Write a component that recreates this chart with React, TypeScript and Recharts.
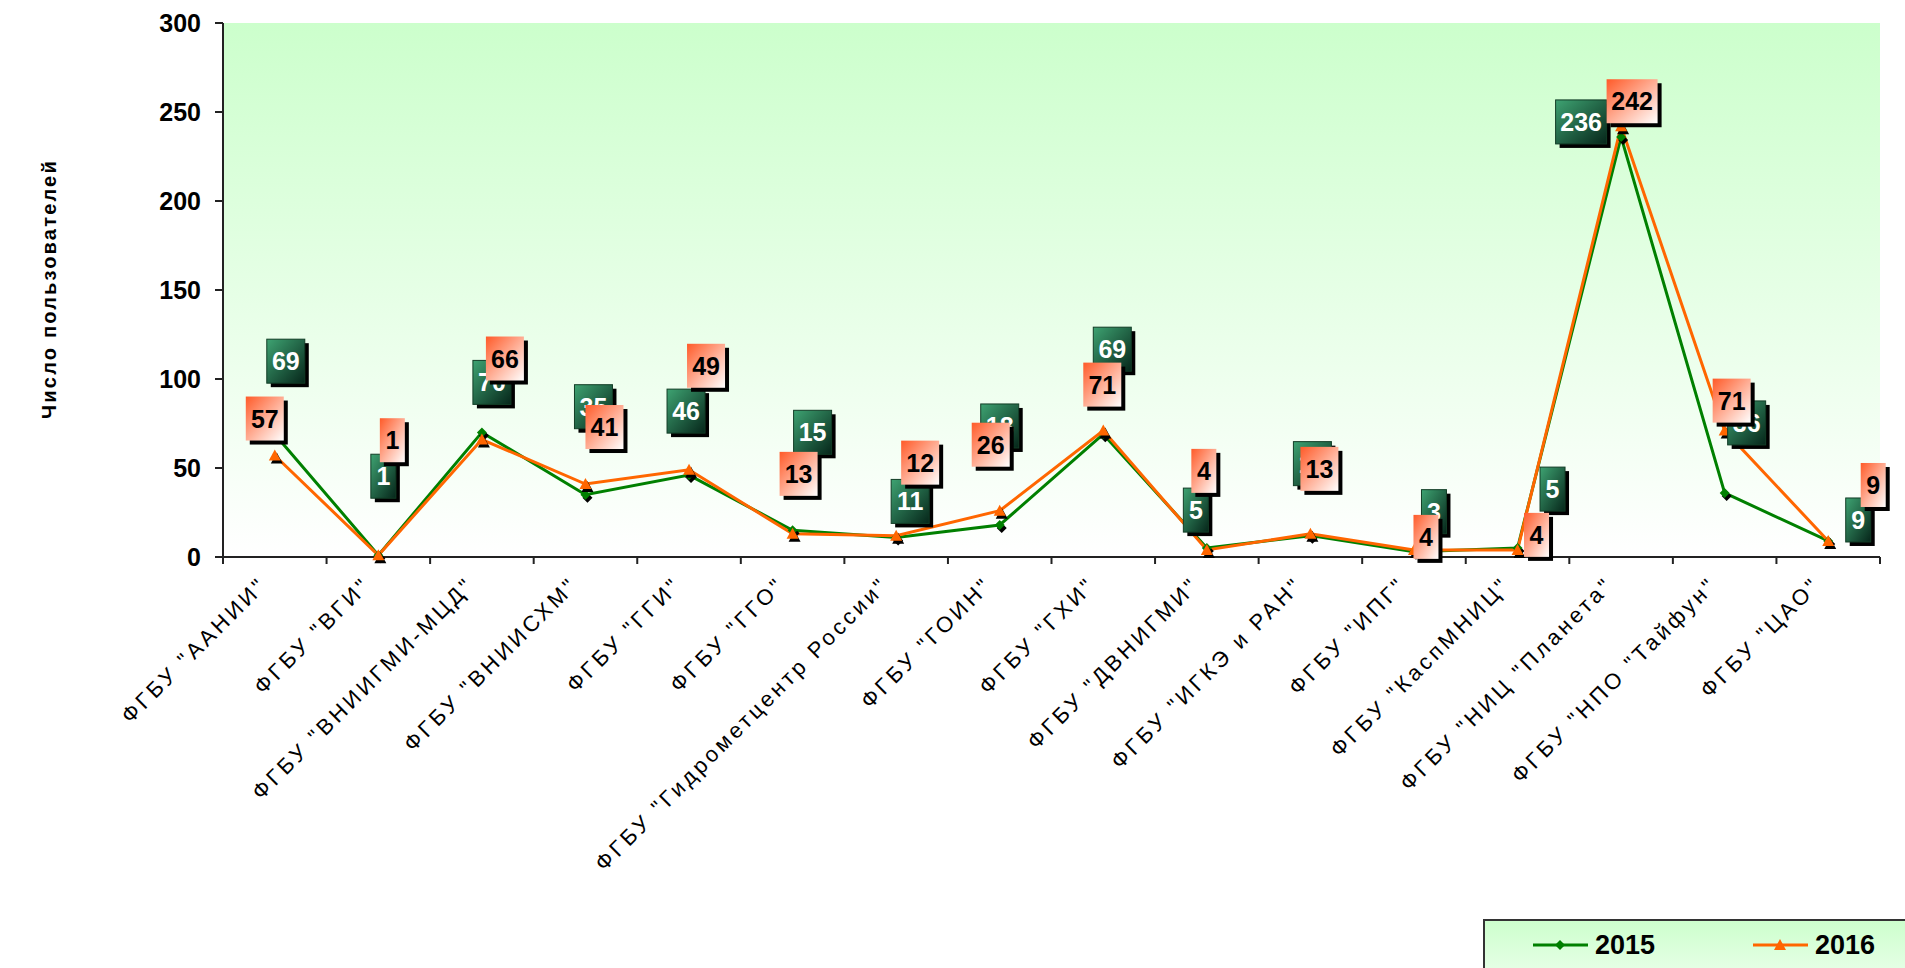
import React from 'react';
import { LineChart, Line, XAxis, YAxis, CartesianGrid } from 'recharts';

// ---------- data ----------
const categories: string[] = [
  'ФГБУ "ААНИИ"',
  'ФГБУ "ВГИ"',
  'ФГБУ "ВНИИГМИ-МЦД"',
  'ФГБУ "ВНИИСХМ"',
  'ФГБУ "ГГИ"',
  'ФГБУ "ГГО"',
  'ФГБУ "Гидрометцентр России"',
  'ФГБУ "ГОИН"',
  'ФГБУ "ГХИ"',
  'ФГБУ "ДВНИГМИ"',
  'ФГБУ "ИГКЭ и РАН"',
  'ФГБУ "ИПГ"',
  'ФГБУ "КаспМНИЦ"',
  'ФГБУ "НИЦ "Планета"',
  'ФГБУ "НПО "Тайфун"',
  'ФГБУ "ЦАО"',
];
const values2015: number[] = [69, 1, 70, 35, 46, 15, 11, 18, 69, 5, 12, 3, 5, 236, 36, 9];
const values2016: number[] = [57, 1, 66, 41, 49, 13, 12, 26, 71, 4, 13, 4, 4, 242, 71, 9];
const yTicks: number[] = [0, 50, 100, 150, 200, 250, 300];
const seriesNames: string[] = ['2015', '2016'];
const yTitle = 'Число пользователей';

// label placement (offsets of the data-label boxes from their points, px)
const labelShift2015: [number, number][] = [
  [11, -73], [5, -79], [10, -50], [8, -88], [-3, -64], [20, -98], [14, -36], [0, -99],
  [9, -85], [-11, -38], [2, -72], [20, -40], [35, -59], [-40, -15], [22, -70], [30, -21],
];
const labelShift2016: [number, number][] = [
  [-10, -37], [14, -115], [23, -81], [19, -57], [17, -104], [6, -60], [24, -73], [-9, -66],
  [-1, -46], [-3, -79], [9, -65], [12, -13], [19, -15], [11, -25], [7, -30], [45, -56],
];

// ---------- layout ----------
const W = 1905;
const H = 968;
const PLOT_LEFT = 223;
const PLOT_RIGHT = 1880;
const PLOT_TOP = 23;
const PLOT_BOTTOM = 557;
const N = categories.length;
const BAND = (PLOT_RIGHT - PLOT_LEFT) / N;
const FONT = '"Liberation Sans", Arial, Helvetica, sans-serif';
const GREEN = '#008000';
const ORANGE = '#ff6600';
const AXIS = '#222222';

const data = categories.map((name, i) => ({ name, y2015: values2015[i], y2016: values2016[i] }));

const diamondPts = (cx: number, cy: number, r: number) =>
  `${cx},${cy - r} ${cx + r},${cy} ${cx},${cy + r} ${cx - r},${cy}`;
const trianglePts = (cx: number, cy: number) =>
  `${cx},${cy - 6} ${cx + 6},${cy + 5} ${cx - 6},${cy + 5}`;

const GreenDot = (props: any) => {
  const { cx, cy, index } = props;
  if (cx == null || cy == null) return <g key={`gd-${index}`} />;
  return (
    <g key={`gd-${index}`}>
      <polygon points={diamondPts(cx + 2, cy + 3, 5)} fill="#000" />
      <polygon points={diamondPts(cx, cy, 5)} fill={GREEN} />
    </g>
  );
};

const OrangeDot = (props: any) => {
  const { cx, cy, index } = props;
  if (cx == null || cy == null) return <g key={`od-${index}`} />;
  return (
    <g key={`od-${index}`}>
      <polygon points={trianglePts(cx + 2, cy + 3)} fill="#000" />
      <polygon points={trianglePts(cx, cy)} fill={ORANGE} />
    </g>
  );
};

const makeLabel = (kind: 'g' | 'o', shifts: [number, number][]) => (props: any) => {
  const { cx, cy, index, value } = props;
  if (cx == null || cy == null) return <g key={`l${kind}-${index}`} />;
  const [dx, dy] = shifts[index] || [0, -40];
  const text = String(Array.isArray(value) ? value[1] : value);
  const w = 12 + 13 * text.length;
  const h = 44;
  const bx = cx + dx - w / 2;
  const by = cy + dy - h / 2;
  return (
    <g key={`l${kind}-${index}`}>
      <rect x={bx + 4} y={by + 4} width={w} height={h} fill="#000" />
      <rect
        x={bx}
        y={by}
        width={w}
        height={h}
        fill={kind === 'g' ? 'url(#greenLabelGrad)' : 'url(#orangeLabelGrad)'}
        stroke={kind === 'g' ? '#123d26' : 'none'}
        strokeWidth={1}
      />
      <text
        x={bx + w / 2}
        y={by + h / 2 + 9}
        textAnchor="middle"
        fontFamily={FONT}
        fontWeight="bold"
        fontSize={25}
        fill={kind === 'g' ? '#ffffff' : '#000000'}
      >
        {text}
      </text>
    </g>
  );
};

const XTick = (props: any) => {
  const { x, payload, index } = props;
  const left = x - BAND / 2;
  const px = x - 6;
  const py = PLOT_BOTTOM + 29;
  return (
    <g>
      <line x1={left} y1={PLOT_BOTTOM} x2={left} y2={PLOT_BOTTOM + 7} stroke={AXIS} strokeWidth={2} />
      {index === N - 1 && (
        <line x1={x + BAND / 2} y1={PLOT_BOTTOM} x2={x + BAND / 2} y2={PLOT_BOTTOM + 7} stroke={AXIS} strokeWidth={2} />
      )}
      <text
        x={px}
        y={py}
        transform={`rotate(-45, ${px}, ${py})`}
        textAnchor="end"
        fontFamily={FONT}
        fontSize={22}
        letterSpacing={3.4}
        fill="#000"
      >
        {payload.value}
      </text>
    </g>
  );
};

export default function App() {
  return (
    <div style={{ position: 'absolute', left: 0, top: 0, width: W, height: H, overflow: 'hidden', background: '#fff' }}>
      <svg width={0} height={0} style={{ position: 'absolute' }}>
        <defs>
          <linearGradient id="plotBg" x1="0" y1="0" x2="0" y2="1">
            <stop offset="0%" stopColor="#ccffcc" />
            <stop offset="100%" stopColor="#ffffff" />
          </linearGradient>
          <linearGradient id="legendBg" x1="0" y1="0" x2="0" y2="1">
            <stop offset="0%" stopColor="#ccffcc" />
            <stop offset="100%" stopColor="#ffffff" />
          </linearGradient>
          <linearGradient id="greenLabelGrad" x1="0" y1="0" x2="1" y2="1">
            <stop offset="0%" stopColor="#3ea372" />
            <stop offset="100%" stopColor="#06261a" />
          </linearGradient>
          <linearGradient id="orangeLabelGrad" x1="0" y1="0" x2="1" y2="1">
            <stop offset="0%" stopColor="#ff5a28" />
            <stop offset="100%" stopColor="#ffffff" />
          </linearGradient>
        </defs>
      </svg>
      <LineChart
        width={W}
        height={H}
        data={data}
        margin={{ top: PLOT_TOP, right: W - PLOT_RIGHT, left: 0, bottom: 0 }}
      >
        <CartesianGrid horizontal={false} vertical={false} fill="url(#plotBg)" />
        <XAxis
          dataKey="name"
          interval={0}
          height={H - PLOT_BOTTOM}
          padding={{ left: BAND / 2, right: BAND / 2 }}
          tickLine={false}
          axisLine={{ stroke: AXIS, strokeWidth: 2 }}
          tick={<XTick />}
        />
        <YAxis
          width={PLOT_LEFT}
          domain={[0, 300]}
          ticks={yTicks}
          interval={0}
          tickSize={8}
          tickMargin={14}
          axisLine={{ stroke: AXIS, strokeWidth: 2 }}
          tickLine={{ stroke: AXIS, strokeWidth: 2 }}
          tick={{ fontSize: 25, fontWeight: 'bold', fontFamily: FONT, fill: '#000' }}
        />
        <Line
          type="linear"
          dataKey="y2015"
          name={seriesNames[0]}
          stroke={GREEN}
          strokeWidth={3}
          dot={GreenDot}
          activeDot={false}
          isAnimationActive={false}
        />
        <Line
          type="linear"
          dataKey="y2016"
          name={seriesNames[1]}
          stroke={ORANGE}
          strokeWidth={3}
          dot={OrangeDot}
          activeDot={false}
          isAnimationActive={false}
        />
        <Line
          dataKey="y2015"
          stroke="none"
          legendType="none"
          dot={makeLabel('g', labelShift2015)}
          activeDot={false}
          isAnimationActive={false}
        />
        <Line
          dataKey="y2016"
          stroke="none"
          legendType="none"
          dot={makeLabel('o', labelShift2016)}
          activeDot={false}
          isAnimationActive={false}
        />
      </LineChart>
      <svg
        width={W}
        height={H}
        style={{ position: 'absolute', left: 0, top: 0, pointerEvents: 'none' }}
      >
        <text
          x={49}
          y={289}
          transform="rotate(-90, 49, 289)"
          textAnchor="middle"
          dominantBaseline="central"
          fontFamily={FONT}
          fontWeight="bold"
          fontSize={20}
          letterSpacing={2.2}
          fill="#000"
        >
          {yTitle}
        </text>
        <rect x={1484} y={920} width={500} height={100} fill="url(#legendBg)" stroke="#333" strokeWidth={2} />
        <line x1={1533} y1={945} x2={1588} y2={945} stroke={GREEN} strokeWidth={3} />
        <polygon points={diamondPts(1560, 945, 5)} fill={GREEN} />
        <text x={1595} y={954} fontFamily={FONT} fontWeight="bold" fontSize={27} fill="#000">
          {seriesNames[0]}
        </text>
        <line x1={1753} y1={945} x2={1808} y2={945} stroke={ORANGE} strokeWidth={3} />
        <polygon points={trianglePts(1780, 945)} fill={ORANGE} />
        <text x={1815} y={954} fontFamily={FONT} fontWeight="bold" fontSize={27} fill="#000">
          {seriesNames[1]}
        </text>
      </svg>
    </div>
  );
}
